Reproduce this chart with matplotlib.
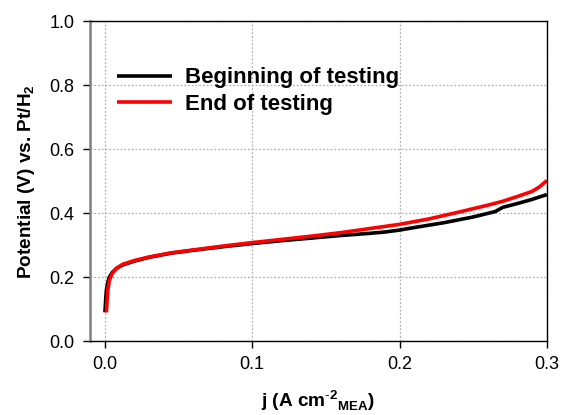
import matplotlib
matplotlib.use("Agg")
import matplotlib.pyplot as plt

plt.rcParams['font.family'] = ['Liberation Sans', 'DejaVu Sans']
plt.rcParams['mathtext.fontset'] = 'custom'
plt.rcParams['mathtext.rm'] = 'Liberation Sans'
plt.rcParams['mathtext.bf'] = 'Liberation Sans:bold'

# Polarization data (current density in A cm^-2, potential in V)
j_begin = [0, 0.0005, 0.001, 0.002, 0.003, 0.005, 0.008, 0.012, 0.02, 0.03, 0.045,
           0.06, 0.08, 0.1, 0.12, 0.14, 0.16, 0.18, 0.19, 0.2, 0.21, 0.23, 0.25,
           0.265, 0.27, 0.28, 0.29, 0.3]
v_begin = [0.09, 0.13, 0.16, 0.185, 0.2, 0.215, 0.228, 0.238, 0.25, 0.262, 0.275,
           0.284, 0.295, 0.305, 0.314, 0.322, 0.33, 0.337, 0.341, 0.347, 0.355, 0.37,
           0.388, 0.405, 0.418, 0.43, 0.443, 0.458]

j_end = [0.001, 0.0015, 0.002, 0.003, 0.005, 0.008, 0.012, 0.02, 0.03, 0.045, 0.06,
         0.08, 0.1, 0.12, 0.14, 0.16, 0.18, 0.2, 0.22, 0.24, 0.26, 0.27, 0.28, 0.29,
         0.295, 0.3]
v_end = [0.09, 0.13, 0.16, 0.19, 0.212, 0.228, 0.24, 0.252, 0.263, 0.276, 0.285,
         0.297, 0.308, 0.318, 0.328, 0.339, 0.352, 0.365, 0.382, 0.403, 0.425, 0.437,
         0.452, 0.468, 0.482, 0.502]

series_labels = ["Beginning of testing", "End of testing"]
x_ticks = [0.0, 0.1, 0.2, 0.3]
y_ticks = [0.0, 0.2, 0.4, 0.6, 0.8, 1.0]

fig = plt.figure(figsize=(5.62, 4.15), dpi=100)
ax = fig.add_axes([0.160, 0.178, 0.813, 0.771])

ax.plot(j_begin, v_begin, color='black', lw=2.6, label=series_labels[0], solid_capstyle='butt')
ax.plot(j_end, v_end, color='#ff0000', lw=2.6, label=series_labels[1], solid_capstyle='butt')

ax.set_xlim(-0.0102, 0.3)
ax.set_ylim(0, 1.0)
ax.set_xticks(x_ticks)
ax.set_yticks(y_ticks)
ax.set_xticklabels([f"{t:.1f}" for t in x_ticks])
ax.set_yticklabels([f"{t:.1f}" for t in y_ticks])
ax.tick_params(axis='both', direction='out', length=5, width=1, labelsize=13, pad=6)

ax.grid(True, color='#b0b0b0', linestyle=(0, (1.5, 1.5)), linewidth=0.9)
ax.set_axisbelow(True)

for side in ['top', 'right', 'bottom']:
    ax.spines[side].set_color('black')
    ax.spines[side].set_linewidth(1.0)
ax.spines['left'].set_color('#808080')
ax.spines['left'].set_linewidth(1.8)

ax.set_ylabel(r'Potential (V) vs. Pt/H$_\mathbf{2}$', fontsize=13.7, fontweight='bold', labelpad=9)
ax.set_xlabel(r'j (A cm$^{\mathbf{\text{-}2}}$$_{\mathbf{MEA}}$)', fontsize=13.7,
              fontweight='bold', labelpad=11)

leg = ax.legend(loc='upper left', bbox_to_anchor=(0.04, 0.883), frameon=False,
                prop={'weight': 'bold', 'size': 16}, handlelength=2.45,
                handletextpad=0.6, labelspacing=0.26, borderaxespad=0)

fig.savefig('out.png', dpi=100)
